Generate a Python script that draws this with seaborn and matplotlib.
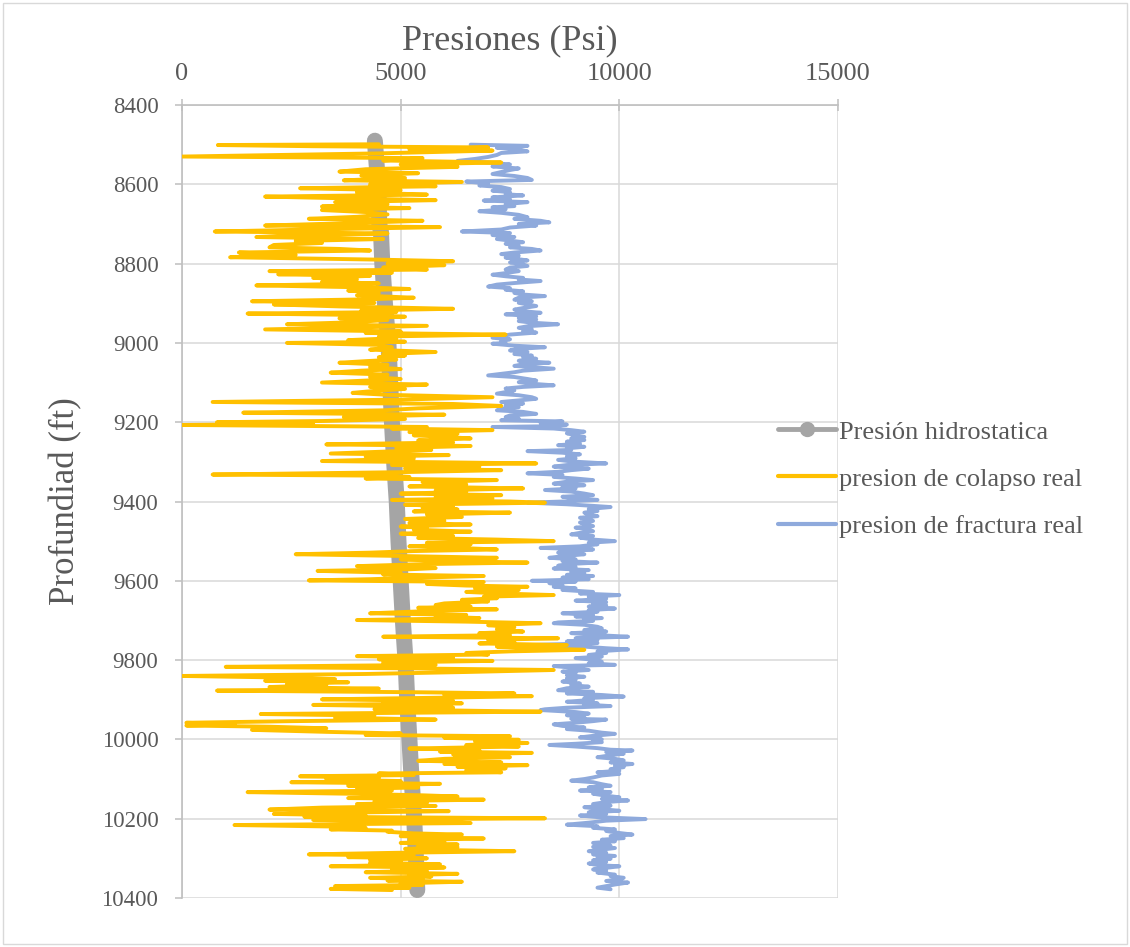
import matplotlib
matplotlib.use("Agg")
import matplotlib.pyplot as plt
from matplotlib.lines import Line2D
from matplotlib.patches import Rectangle
import seaborn as sns
import pandas as pd

# ---------------- data ----------------
x_ticks = [0, 5000, 10000, 15000]
y_ticks = [8400, 8600, 8800, 9000, 9200, 9400, 9600, 9800, 10000, 10200, 10400]
series_names = ["Presión hidrostatica", "presion de colapso real", "presion de fractura real"]

hidro_depth = [8490, 8550, 8600, 8700, 8720, 8800, 8900, 9000, 9100, 9200, 9300,
               9400, 9500, 9600, 9700, 9800, 9900, 10000, 10100, 10200, 10300, 10380]
hidro_psi = [4410, 4450, 4490, 4510, 4550, 4580, 4640, 4720, 4760, 4800, 4850,
             4910, 4950, 5000, 5050, 5110, 5150, 5200, 5250, 5310, 5350, 5380]

colapso = [
    (8499, 4500), (8501, 820), (8504, 3000), (8507, 7000), (8512, 5200), (8515, 7100),
    (8522, 4500), (8530, 0), (8534, 5500), (8540, 4600), (8545, 7300), (8550, 5000),
    (8556, 6300), (8562, 4200), (8568, 3600), (8572, 5400), (8578, 4100), (8584, 5100),
    (8590, 3700), (8594, 6400), (8600, 4300), (8605, 5800), (8610, 2700),
    (8615, 5000), (8620, 4000), (8626, 5600), (8631, 1900), (8636, 4000), (8640, 5800),
    (8645, 3500), (8650, 4700), (8656, 3200), (8660, 5200), (8665, 3200), (8670, 4200),
    (8676, 4700), (8682, 4000), (8687, 2900), (8692, 5500), (8698, 3800), (8704, 1900),
    (8708, 5900), (8714, 3000), (8719, 750), (8724, 4700), (8729, 2500), (8733, 1700),
    (8738, 4600), (8743, 2600), (8748, 3200), (8753, 2100), (8759, 2000), (8763, 3600),
    (8767, 4300), (8772, 1300), (8778, 2600), (8784, 1100), (8790, 4500), (8794, 6200),
    (8800, 4700),
    (8804, 6000), (8810, 4600), (8815, 5600), (8819, 2000), (8823, 4800), (8827, 2200),
    (8831, 4300), (8836, 3000), (8840, 4000), (8846, 3200), (8850, 4500), (8855, 1700),
    (8860, 4200), (8864, 5200), (8868, 3800), (8874, 4500), (8880, 4000), (8886, 5300),
    (8890, 4300), (8895, 1600), (8899, 4400), (8903, 2100), (8908, 3600), (8914, 6200),
    (8918, 4100), (8922, 4900), (8926, 1500), (8930, 4400), (8934, 5100), (8938, 3600),
    (8942, 4700), (8948, 3900), (8953, 2400), (8957, 5600), (8962, 3600), (8966, 1900),
    (8971, 5000), (8975, 4200), (8979, 7400), (8984, 4500), (8988, 4900), (8993, 3800),
    (8997, 5100), (9000, 2400),
    (9005, 4500), (9011, 4800), (9017, 4300), (9023, 5800), (9028, 4600), (9032, 5100),
    (9036, 4500), (9042, 4900), (9046, 4200), (9050, 3600), (9055, 4700), (9061, 4300),
    (9066, 5000), (9070, 4100), (9075, 3400), (9080, 4700), (9086, 4300), (9091, 5000),
    (9096, 4000), (9100, 3200), (9105, 5600), (9111, 4300), (9116, 5100), (9121, 4400),
    (9126, 3900), (9131, 4700), (9137, 7100), (9143, 5000), (9149, 700), (9154, 6200),
    (9159, 7300), (9165, 5400), (9170, 4600), (9176, 1400), (9181, 6000), (9187, 3700),
    (9192, 5100), (9197, 3200), (9200, 800),
    (9204, 3000), (9207, 0), (9212, 5600), (9216, 4800), (9220, 7100), (9225, 5200),
    (9229, 6300), (9233, 5300), (9237, 6000), (9241, 6600), (9246, 5400), (9251, 6200),
    (9256, 3300), (9260, 6600), (9265, 4900), (9270, 5700), (9275, 4400), (9279, 3400),
    (9283, 6100), (9287, 4200), (9292, 5300), (9298, 3200), (9301, 5800), (9304, 8100),
    (9308, 4800), (9312, 6800), (9317, 5100), (9321, 7300), (9326, 5000), (9332, 700),
    (9335, 4800), (9338, 5200), (9342, 4200), (9346, 7200), (9351, 5500), (9357, 6500),
    (9362, 5200), (9367, 7800), (9372, 5800), (9376, 6500), (9380, 5000), (9384, 7300),
    (9388, 5800), (9392, 7100), (9396, 4800), (9400, 7500),
    (9403, 8300), (9408, 5100), (9412, 6200), (9416, 5500), (9420, 6300), (9425, 5300),
    (9428, 7500), (9433, 5600), (9439, 6400), (9444, 5100), (9449, 6000), (9454, 5200),
    (9458, 6600), (9463, 5000), (9467, 5600), (9471, 5300), (9476, 6600), (9481, 5000),
    (9487, 6200), (9492, 5400), (9496, 7200), (9500, 8500), (9504, 5600), (9508, 6600),
    (9513, 5200), (9517, 6300), (9521, 7200), (9525, 5300), (9529, 4300), (9533, 2600),
    (9537, 4800), (9542, 7200), (9546, 5000), (9550, 6000), (9554, 7900), (9558, 5500),
    (9563, 4000), (9568, 5800), (9571, 5200), (9575, 3100), (9580, 5000), (9584, 4600),
    (9588, 6900), (9592, 5400), (9596, 4300), (9599, 2900),
    (9603, 6900), (9608, 5600), (9612, 6500), (9615, 7900), (9619, 6700), (9623, 7700),
    (9628, 6500), (9632, 7300), (9636, 8500), (9640, 6900), (9644, 7200), (9648, 6400),
    (9652, 7000), (9657, 6000), (9661, 5800), (9665, 6600), (9668, 5400), (9672, 7200),
    (9676, 5700), (9682, 4300), (9686, 6500), (9690, 5800), (9694, 6800), (9699, 4000),
    (9703, 6500), (9707, 8200), (9712, 7000), (9717, 7600), (9722, 7200), (9728, 7800),
    (9732, 6800), (9737, 7500), (9741, 4600), (9745, 8600), (9749, 7000), (9754, 7600),
    (9758, 6800), (9762, 8800), (9766, 7200), (9770, 8100), (9774, 9200), (9778, 7500),
    (9782, 6500), (9786, 7000), (9790, 4000), (9794, 6200), (9798, 4500), (9802, 7100),
    (9806, 4600), (9812, 5800), (9817, 1000), (9821, 5300), (9825, 8500), (9830, 6500),
    (9835, 4200), (9840, 0), (9844, 2300), (9848, 3500), (9852, 1900), (9856, 3800),
    (9860, 2400), (9863, 3300), (9868, 2000), (9872, 4500), (9877, 800), (9881, 5300),
    (9884, 7600), (9888, 6000), (9891, 8000), (9895, 5800), (9899, 3200), (9903, 6200),
    (9906, 4600), (9909, 6400), (9913, 3000), (9917, 5400), (9920, 6200), (9924, 4400),
    (9928, 6800), (9930, 8200), (9933, 5000), (9936, 1800), (9940, 4400), (9945, 3500),
    (9950, 5800), (9954, 2500), (9958, 100), (9962, 1200), (9965, 100), (9968, 2000),
    (9972, 3300), (9976, 1600), (9981, 3300), (9985, 5000), (9989, 4200), (9992, 7500),
    (9996, 6000), (10001, 7700),
    (10005, 6700), (10009, 7900), (10014, 6500), (10018, 7700), (10023, 5200), (10027, 6800),
    (10031, 5900), (10034, 8000), (10038, 6200), (10042, 6800), (10045, 7500), (10049, 6000),
    (10054, 5400), (10058, 7300), (10062, 6000), (10065, 7900), (10069, 6300), (10073, 7400),
    (10077, 6500), (10083, 7300), (10086, 4500), (10090, 5300), (10093, 2700), (10097, 4500),
    (10101, 3300), (10105, 5000), (10108, 2500), (10112, 5900), (10117, 3800), (10121, 5400),
    (10125, 4000), (10129, 4800), (10133, 1500), (10137, 3800), (10141, 5500), (10144, 6300),
    (10148, 3800), (10152, 6900), (10156, 4400), (10160, 5600), (10163, 4000), (10168, 5800),
    (10172, 3200), (10177, 2000), (10181, 6100), (10185, 3600), (10188, 2100), (10192, 4200),
    (10195, 2800), (10199, 8300),
    (10203, 3000), (10207, 5600), (10211, 6600), (10216, 1200), (10220, 3600), (10223, 4200),
    (10227, 3400), (10230, 4800), (10233, 4700), (10237, 5300), (10240, 6400), (10244, 5000),
    (10247, 5800), (10250, 6900), (10254, 5200), (10258, 6000), (10261, 5000), (10265, 6300),
    (10269, 5400), (10272, 6300), (10276, 5100), (10279, 6000), (10282, 7600), (10286, 4900),
    (10290, 2900), (10293, 5300), (10297, 3800), (10300, 5600), (10304, 4300), (10308, 5000),
    (10311, 4300), (10315, 5900), (10320, 3400), (10323, 6000), (10327, 4800), (10331, 5600),
    (10335, 4200), (10339, 6300), (10342, 5200), (10346, 5700), (10349, 4300), (10353, 5500),
    (10356, 4700), (10359, 6400), (10363, 5000), (10367, 5500), (10370, 3500), (10374, 5200),
    (10377, 3400), (10380, 4800),
]

fractura = [
    (8500, 6600), (8503, 7900), (8508, 7200), (8512, 7700), (8517, 7900), (8521, 7300),
    (8526, 7200), (8531, 7000), (8536, 6700), (8541, 6300), (8545, 7000), (8550, 7500),
    (8555, 7100), (8560, 7700), (8564, 7500), (8569, 7300), (8574, 7100), (8579, 7600),
    (8584, 7900), (8589, 8000), (8593, 6500), (8598, 7000), (8603, 6800), (8607, 7300),
    (8612, 7500), (8616, 7100), (8620, 7500), (8625, 7400), (8628, 7800), (8633, 7100),
    (8638, 7500), (8641, 6900), (8645, 7900), (8650, 7400), (8655, 7600), (8658, 7100),
    (8663, 7400), (8668, 6800), (8672, 7300), (8677, 7700), (8683, 7900), (8687, 7600),
    (8692, 8200), (8696, 8400), (8700, 7700), (8704, 8100), (8709, 7500), (8714, 7300),
    (8719, 6400), (8723, 7500), (8728, 7100), (8733, 7600), (8738, 7200), (8742, 7500),
    (8746, 7800), (8750, 7400), (8755, 7700), (8759, 7500), (8763, 8000), (8767, 8200),
    (8772, 7600), (8776, 7300), (8780, 7700), (8785, 7400), (8789, 7700), (8792, 7900),
    (8797, 7500), (8802, 7800), (8806, 7900), (8810, 7500), (8815, 7400), (8819, 7700),
    (8824, 7400), (8828, 7100), (8832, 7400), (8836, 7800), (8840, 7700), (8844, 8200),
    (8849, 7600), (8853, 7200), (8858, 7000), (8862, 7500), (8866, 7400), (8870, 7800),
    (8874, 7600), (8878, 7800), (8882, 8300), (8886, 7700), (8891, 7600), (8895, 8000),
    (8899, 7700), (8903, 7900), (8907, 8100), (8912, 7800), (8916, 7600), (8920, 7800),
    (8924, 8200), (8928, 7400), (8933, 8100), (8937, 7700), (8941, 8100), (8945, 7700),
    (8949, 8000), (8953, 8600), (8958, 7900), (8962, 7700), (8966, 8000), (8970, 7800),
    (8974, 8100), (8979, 7500), (8983, 7300), (8987, 7100), (8991, 7500), (8995, 7300),
    (9000, 7400), (9002, 7100), (9007, 7600), (9011, 8300), (9015, 7700), (9019, 7500),
    (9023, 7900), (9028, 7600), (9032, 8000), (9036, 7800), (9040, 8100), (9045, 7700),
    (9050, 8400), (9054, 7800), (9058, 7600), (9062, 8100), (9065, 8500), (9070, 7800),
    (9074, 7600), (9078, 7300), (9082, 7000), (9086, 7600), (9091, 7900), (9095, 8100),
    (9099, 7700), (9103, 8000), (9107, 8500), (9111, 7800), (9115, 7400), (9120, 7600),
    (9124, 7400), (9128, 7200), (9132, 7700), (9137, 8000), (9141, 8100), (9145, 7700),
    (9149, 7300), (9153, 7800), (9158, 7400), (9162, 7700), (9166, 7300), (9170, 7200),
    (9174, 7800), (9179, 8100), (9183, 7500), (9187, 7400), (9191, 7700), (9195, 7300),
    (9198, 8700), (9202, 8200), (9206, 8800), (9210, 8500), (9212, 7100), (9216, 8500),
    (9220, 8900), (9224, 9200), (9228, 8800), (9233, 9000), (9237, 9200), (9241, 8900),
    (9245, 9200), (9249, 8800), (9254, 9100), (9258, 8600), (9262, 9200), (9266, 8800),
    (9270, 8900), (9273, 7900), (9277, 8700), (9281, 9100), (9286, 8800), (9291, 9000),
    (9295, 8600), (9299, 8900), (9304, 9700), (9308, 8800), (9312, 8500), (9317, 9300),
    (9321, 8900), (9325, 8600), (9329, 7900), (9333, 8700), (9338, 8500), (9342, 9000),
    (9346, 9400), (9350, 8800), (9355, 8500), (9359, 9200), (9363, 8700), (9367, 9000),
    (9371, 8300), (9375, 8900), (9380, 9200), (9384, 9400), (9388, 8700), (9392, 9000),
    (9396, 9500), (9400, 8700), (9403, 7900), (9407, 8800), (9411, 9400), (9414, 9800),
    (9419, 9300), (9424, 9500), (9428, 9200), (9433, 9300), (9437, 9500), (9441, 9100),
    (9445, 9300), (9449, 9400), (9453, 9100), (9458, 9300), (9462, 9400), (9466, 9000),
    (9470, 9300), (9475, 9400), (9479, 9100), (9483, 8900), (9487, 9400), (9491, 9100),
    (9496, 9400), (9500, 9900), (9504, 9300), (9508, 9500), (9513, 9100), (9517, 8200),
    (9521, 9400), (9525, 8700), (9529, 8600), (9533, 9200), (9538, 8700), (9542, 8400),
    (9546, 9000), (9550, 8700), (9554, 9500), (9558, 8800), (9562, 8600), (9565, 9000),
    (9569, 8500), (9573, 9300), (9577, 8900), (9581, 9200), (9585, 8800), (9588, 9400),
    (9592, 8700), (9596, 9300), (9600, 8000), (9602, 9000), (9606, 8400), (9611, 8700),
    (9615, 8500), (9619, 9000), (9623, 8700), (9628, 9400), (9632, 9100), (9636, 10000),
    (9640, 9300), (9645, 9700), (9650, 9000), (9654, 9700), (9658, 9400), (9662, 9700),
    (9665, 9300), (9670, 9900), (9674, 9300), (9678, 9500), (9682, 8700), (9686, 9400),
    (9690, 9000), (9694, 9600), (9697, 9200), (9701, 9400), (9705, 8600), (9707, 8500),
    (9711, 9200), (9716, 9500), (9720, 9600), (9724, 9200), (9728, 9700), (9732, 8900),
    (9737, 9500), (9741, 10200), (9745, 9000), (9749, 9500), (9753, 8800), (9757, 9500),
    (9762, 8000), (9766, 9200), (9770, 9700), (9773, 10200), (9778, 9500), (9782, 9700),
    (9787, 9300), (9791, 9600), (9795, 9000), (9800, 9500), (9804, 9600), (9808, 9300),
    (9812, 9900), (9815, 8500), (9820, 9000), (9825, 9300), (9829, 8700), (9833, 9000),
    (9838, 8800), (9842, 9200), (9846, 8800), (9850, 9000), (9854, 8700), (9859, 9100),
    (9863, 8900), (9867, 9300), (9871, 8800), (9876, 8600), (9880, 9400), (9884, 8800),
    (9888, 9600), (9892, 10100), (9896, 9200), (9900, 9400), (9905, 8800), (9909, 9500),
    (9912, 9200), (9916, 9800), (9920, 8800), (9924, 8300), (9926, 8200), (9931, 9000),
    (9935, 9300), (9939, 8800), (9944, 9200), (9948, 8900), (9950, 9700), (9954, 9400),
    (9958, 9000), (9962, 8500), (9966, 8700), (9970, 9200), (9974, 8800), (9978, 9300),
    (9983, 9600), (9986, 9900), (9991, 9400), (9995, 9100), (10000, 9600), (10003, 9400),
    (10007, 9600), (10011, 9000), (10014, 8400), (10018, 9000), (10022, 9500), (10026, 9800),
    (10028, 10300), (10032, 9700), (10036, 10100), (10040, 9800), (10045, 9500), (10049, 9900),
    (10053, 10100), (10058, 9800), (10062, 10300), (10066, 9900), (10070, 10100), (10075, 9800),
    (10079, 10000), (10083, 9500), (10087, 10000), (10091, 9600), (10096, 9400), (10100, 9200),
    (10104, 8900), (10108, 9400), (10113, 9600), (10117, 9800), (10121, 9300), (10125, 9600),
    (10129, 9100), (10133, 9800), (10137, 9400), (10142, 9700), (10146, 10000), (10150, 9600),
    (10154, 10200), (10158, 9700), (10163, 9400), (10167, 9800), (10171, 9200), (10175, 9500),
    (10180, 10000), (10184, 9300), (10188, 9700), (10192, 9100), (10196, 9500), (10201, 10600),
    (10205, 9700), (10210, 9300), (10215, 8800), (10219, 9500), (10223, 9400), (10227, 9900),
    (10231, 9700), (10236, 10000), (10240, 10300), (10244, 9800), (10249, 10100), (10253, 9600),
    (10257, 9900), (10261, 9400), (10264, 9500), (10268, 9800), (10271, 9400), (10274, 9900),
    (10278, 9600), (10282, 9300), (10286, 9700), (10290, 9400), (10294, 9900), (10297, 9500),
    (10301, 9800), (10305, 9400), (10309, 9700), (10313, 9300), (10317, 9500), (10320, 10000),
    (10324, 9700), (10328, 9400), (10332, 9700), (10336, 9500), (10341, 9900), (10345, 9800),
    (10349, 10100), (10353, 10000), (10357, 9700), (10361, 10200), (10366, 9900), (10370, 9700),
    (10374, 9500), (10378, 9800),
]

# ---------------- figure ----------------
sns.set_theme(style="whitegrid")
plt.rcParams["font.family"] = ["Liberation Serif", "DejaVu Serif"]

TXT = "#595959"
GRID = "#D9D9D9"
C_HID = "#A5A5A5"
C_COL = "#FFC000"
C_FRA = "#8FAADC"

W, H = 1130, 947
fig = plt.figure(figsize=(W / 100, H / 100), dpi=100)
fig.patch.set_facecolor("white")
fig.add_artist(Rectangle((3 / W, 3 / H), 1 - 6 / W, 1 - 6 / H, transform=fig.transFigure,
                         fill=False, edgecolor=GRID, lw=1.0))

ax = fig.add_axes([182 / W, 1 - 898 / H, (838 - 182) / W, (898 - 105) / H])
ax.set_facecolor("white")

df_h = pd.DataFrame({"depth": hidro_depth, "psi": hidro_psi})
df_c = pd.DataFrame(colapso, columns=["depth", "psi"])
df_f = pd.DataFrame(fractura, columns=["depth", "psi"])

sns.lineplot(data=df_h, x="psi", y="depth", sort=False, estimator=None, ax=ax,
             color=C_HID, lw=11.5, solid_capstyle="round", zorder=2)
sns.lineplot(data=df_f, x="psi", y="depth", sort=False, estimator=None, ax=ax,
             color=C_FRA, lw=2.8, solid_joinstyle="round", solid_capstyle="round", zorder=3)
sns.lineplot(data=df_c, x="psi", y="depth", sort=False, estimator=None, ax=ax,
             color=C_COL, lw=2.8, solid_joinstyle="round", solid_capstyle="round", zorder=4)

ax.set_xlim(0, 15000)
ax.set_ylim(10400, 8400)
ax.xaxis.tick_top()
ax.xaxis.set_label_position("top")
ax.set_xticks(x_ticks)
ax.set_yticks(y_ticks)
ax.set_xticklabels([str(v) for v in x_ticks])
ax.set_yticklabels([str(v) for v in y_ticks])

ax.grid(True, color=GRID, lw=1.1)
for s in ["right", "bottom"]:
    ax.spines[s].set_visible(False)
for s in ["left", "top"]:
    ax.spines[s].set_visible(True)
    ax.spines[s].set_color("#BFBFBF")
    ax.spines[s].set_linewidth(1.2)

ax.tick_params(axis="x", top=True, bottom=False, labeltop=True, labelbottom=False,
               direction="inout", length=9, width=1.1, color="#BFBFBF",
               labelsize=19, labelcolor=TXT, pad=10)
ax.tick_params(axis="y", left=True, direction="out", length=5, width=1.1, color="#BFBFBF",
               labelsize=16.5, labelcolor=TXT, pad=12)

ax.set_xlabel("Presiones (Psi)", fontsize=26, color=TXT, labelpad=10)
ax.set_ylabel("Profundiad (ft)", fontsize=25, color=TXT, labelpad=14)

handles = [
    Line2D([], [], color=C_HID, lw=3.5, marker="o", markersize=10),
    Line2D([], [], color=C_COL, lw=3),
    Line2D([], [], color=C_FRA, lw=3),
]
leg = ax.legend(handles, series_names, loc="center left",
                bbox_to_anchor=((778 - 182) / 656, 1 - (479 - 105) / 793),
                frameon=False, fontsize=19, handlelength=2.2, handletextpad=0.12,
                labelspacing=0.9, borderpad=0, borderaxespad=0)
for t in leg.get_texts():
    t.set_color(TXT)

fig.savefig("out.png", dpi=100, facecolor="white")
